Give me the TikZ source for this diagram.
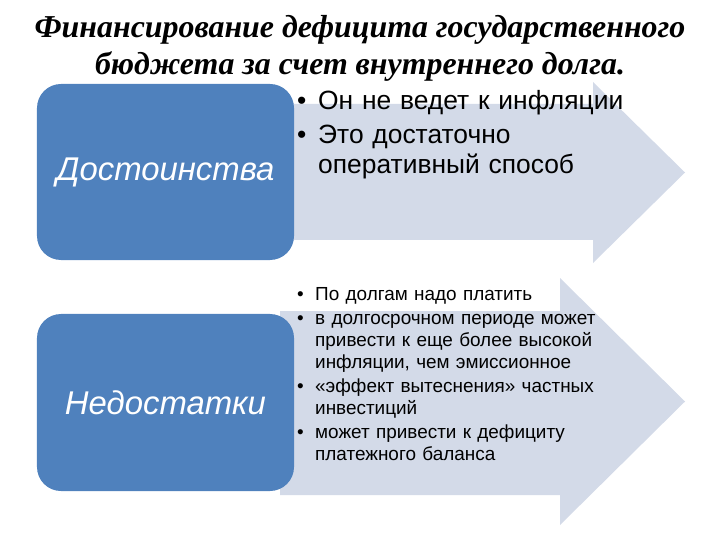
\documentclass[tikz,border=0pt]{standalone}
\usepackage{fontspec}
\setmainfont{Liberation Serif}
\setsansfont{Liberation Sans}
\usepackage{tikz}
\usetikzlibrary{positioning}

\definecolor{boxblue}{HTML}{4F81BD}
\definecolor{arrowgrey}{HTML}{D3DAE8}

% one bullet line of a list, hanging indent
\newlength\pointindent
\newcommand\listpoint[1]{\par\hangindent=\pointindent\hangafter=1\noindent\makebox[\pointindent][l]{\textbullet}#1\par}

\begin{document}
\begin{tikzpicture}[x=1bp,y=-1bp]

    \tikzstyle{headbox}=[fill=boxblue, rounded corners=24bp, minimum width=257bp, inner sep=0pt,
        text=white, font=\sffamily\itshape\fontsize{33}{36}\selectfont]
    \tikzstyle{pointlist}=[anchor=north west, inner sep=0pt, align=left]
    \tikzstyle{arrowbody}=[fill=arrowgrey]

    \def \arrowL {280} % left end of the arrow bodies
    \def \arrowTip {685} % x of the arrow tips

    \newcommand\listarrow[5]{
        \fill[arrowbody] (\arrowL,#1) -- (#3,#1) -- (#3,#4) -- (\arrowTip,{(#4+#5)/2}) -- (#3,#5) -- (#3,#2) -- (\arrowL,#2) -- cycle;
    }
    %\listarrow{bodytop}{bodybottom}{headbase}{headtop}{headbottom};

    \useasboundingbox (0,0) rectangle (720,540);

    % the title
    \node[align=center, font=\bfseries\itshape\fontsize{32}{37}\selectfont] (title) at (360,48)
        {Финансирование дефицита государственного\\бюджета за счет внутреннего долга.};

    % the two arrows behind the boxes
    \listarrow{104}{240}{593}{82}{263};
    \listarrow{311}{495}{560}{278}{525};

    % the blue boxes
    \node[headbox, minimum height=176bp] (merits) at (165.5,172) {Достоинства};
    \node[headbox, minimum height=177bp] (flaws) at (165.5,402.5) {Недостатки};

    % the points on the arrows
    \node[pointlist, font=\sffamily\fontsize{26.5}{30}\selectfont, text width=330bp] (merits_list) at (297,79) {%
        \setlength\pointindent{21bp}%
        \listpoint{Он не ведет к инфляции}\vspace{5bp}
        \listpoint{Это достаточно\newline оперативный способ}};
    \node[pointlist, font=\sffamily\fontsize{19}{22.5}\selectfont, text width=310bp] (flaws_list) at (297,278) {%
        \setlength\pointindent{18bp}%
        \listpoint{По долгам надо платить}\vspace{1bp}
        \listpoint{в долгосрочном периоде может\newline привести к еще более высокой\newline инфляции, чем эмиссионное}\vspace{1bp}
        \listpoint{«эффект вытеснения» частных\newline инвестиций}\vspace{1bp}
        \listpoint{может привести к дефициту\newline платежного баланса}};

\end{tikzpicture}
\end{document}
